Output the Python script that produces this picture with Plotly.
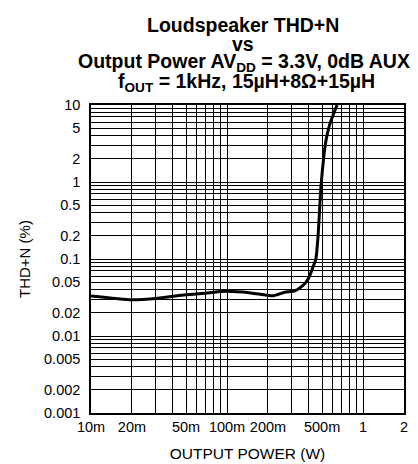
import plotly.graph_objects as go

# Data
power_w = [0.01, 0.02, 0.031, 0.044, 0.069, 0.098, 0.15, 0.218, 0.265, 0.315,
           0.36, 0.395, 0.43, 0.45, 0.467, 0.49, 0.517, 0.534, 0.569, 0.644]
thdn_pct = [0.033, 0.0295, 0.031, 0.0335, 0.036, 0.038, 0.0363, 0.0333, 0.037, 0.0385,
            0.045, 0.055, 0.08, 0.1, 0.2, 0.85, 2.3, 3.45, 5.6, 10]

x_tickvals = [0.01, 0.02, 0.05, 0.1, 0.2, 0.5, 1, 2]
x_ticktext = ["10m", "20m", "50m", "100m", "200m", "500m", "1", "2"]
y_tickvals = [0.001, 0.002, 0.005, 0.01, 0.02, 0.05, 0.1, 0.2, 0.5, 1, 2, 5, 10]
y_ticktext = ["0.001", "0.002", "0.005", "0.01", "0.02", "0.05", "0.1", "0.2", "0.5", "1", "2", "5", "10"]

title_lines = [
    "Loudspeaker THD+N",
    "vs",
    "Output Power AV<sub>DD</sub> = 3.3V, 0dB AUX",
    "f<sub>OUT</sub> = 1kHz, 15µH+8Ω+15µH",
]

FONT = "Liberation Sans, Arial, sans-serif"
W, H = 418, 464
L, R, T, B = 83, 22, 97, 55
PW, PH = W - L - R, H - T - B

fig = go.Figure()
fig.add_trace(go.Scatter(
    x=power_w, y=thdn_pct, mode="lines",
    line=dict(color="black", width=3, shape="spline", smoothing=0.6),
    hoverinfo="skip", showlegend=False,
))

axis_common = dict(
    type="log",
    showline=True, mirror=True, linecolor="black", linewidth=1.5,
    showgrid=True, gridcolor="black", gridwidth=1,
    ticks="", zeroline=False,
    tickfont=dict(family=FONT, size=14.5, color="black"),
)

fig.update_xaxes(
    **axis_common,
    range=[-2, 0.30103],
    tickmode="array", tickvals=x_tickvals, ticktext=x_ticktext,
    ticklabelstandoff=0,
    minor=dict(showgrid=True, gridcolor="black", gridwidth=1, dtick="D1", ticks=""),
    title=dict(text="OUTPUT POWER (W)", font=dict(family=FONT, size=15.5, color="black"), standoff=14),
)
fig.update_yaxes(
    **axis_common,
    range=[-3, 1],
    tickmode="array", tickvals=y_tickvals, ticktext=y_ticktext,
    ticklabelstandoff=6,
    minor=dict(showgrid=True, gridcolor="black", gridwidth=1, dtick="D1", ticks=""),
)

# y-axis title placed at its reference position
fig.add_annotation(
    text="THD+N (%)", textangle=-90, xref="paper", yref="paper",
    x=(16 - L) / PW, y=0.5, xanchor="center", yanchor="middle",
    showarrow=False, font=dict(family=FONT, size=15, color="black"),
)

# (text, x-centre pixel, y cap-middle pixel)
placements = [
    (title_lines[0], 235, 17),
    (title_lines[1], 235, 36),
    (title_lines[2], 236, 55),
    (title_lines[3], 238, 75),
]
for txt, px, cy in placements:
    fig.add_annotation(
        text="<b>" + txt + "</b>", xref="paper", yref="paper",
        x=(px - L) / PW, y=(H - B - (cy - 1)) / PH, xanchor="center", yanchor="middle",
        showarrow=False, font=dict(family=FONT, size=19.5, color="black"),
    )

fig.update_layout(
    width=W, height=H,
    margin=dict(l=L, r=R, t=T, b=B),
    paper_bgcolor="white", plot_bgcolor="white",
    showlegend=False,
)

fig.write_html("out.html")
